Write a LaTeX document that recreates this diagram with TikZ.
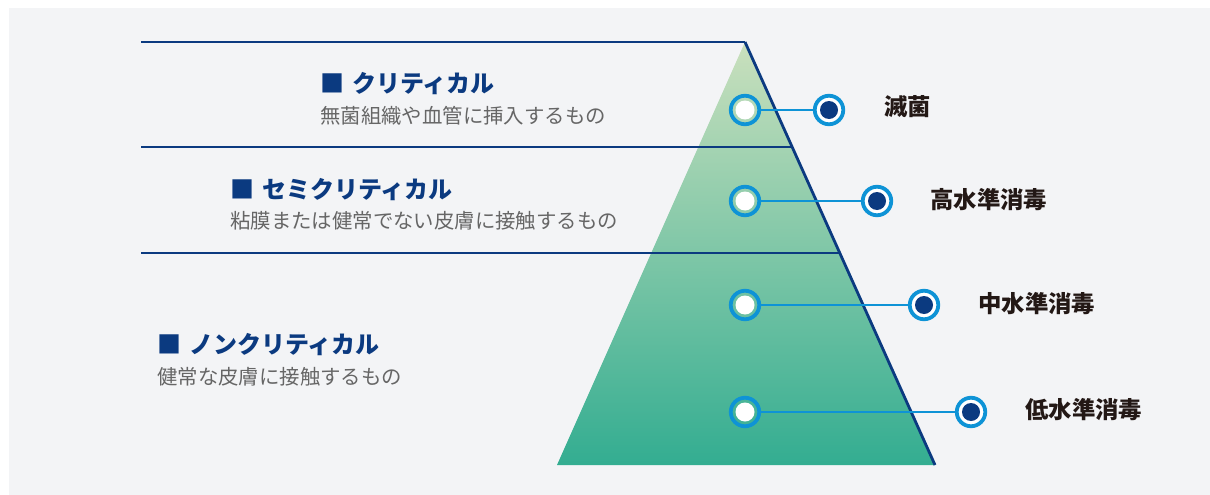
\documentclass[tikz,border=0pt]{standalone}
\usepackage{fontspec}
\usepackage{color}
\setmainfont{Noto Sans CJK JP}
\definecolor{navy}{HTML}{0B3A80}
\definecolor{ringblue}{HTML}{0E93D6}
\definecolor{bggray}{HTML}{F3F4F6}
\definecolor{subgray}{HTML}{666666}
\definecolor{inkblack}{HTML}{231815}
\definecolor{pyrtop}{HTML}{CAE0BD}
\definecolor{pyrbot}{HTML}{33AD91}

\begin{document}
\begin{tikzpicture}[%
      x=1pt, y=-1pt,
      level/.style={navy, line width=2.8pt},
      inring/.style={circle, draw=ringblue, line width=3.8pt, minimum size=28.5pt, inner sep=0pt},
      outring/.style={circle, draw=ringblue, line width=3.8pt, fill=white, minimum size=28.5pt, inner sep=0pt},
      link/.style={ringblue, line width=2.5pt},
      head/.style={anchor=west, inner sep=0pt, text=navy, font=\bfseries\fontsize{24}{28}\selectfont},
      sub/.style={anchor=west, inner sep=0pt, text=subgray, font=\fontsize{20.4}{24}\selectfont},
      lvl/.style={anchor=west, inner sep=0pt, text=inkblack, font=\bfseries\fontsize{23.4}{28}\selectfont},
      ]
      \useasboundingbox (0,0) rectangle (1210,495);
      \fill [bggray] (9,8) rectangle (1210,495);

      % pyramid
      \coordinate (apex) at (745,42);
      \coordinate (baseL) at (557,465);
      \coordinate (baseR) at (935,465);
      \shade [top color=pyrtop, bottom color=pyrbot] (apex) -- (baseR) -- (baseL) -- cycle;
      \draw [level] (apex) -- (baseR);

      \coordinate (lineA) at (141,42);
      \coordinate (lineB) at (141,147);
      \coordinate (lineBe) at (792,147);
      \coordinate (lineC) at (141,253);
      \coordinate (lineCe) at (840,253);
      \draw [level] (lineA) -- (apex);
      \draw [level] (lineB) -- (lineBe);
      \draw [level] (lineC) -- (lineCe);

      % classes
      \node [head] (crit) at (320,84) {■\hspace{8pt}クリティカル};
      \node [sub] (critsub) at (320,116) {無菌組織や血管に挿入するもの};
      \node [head] (semi) at (230,190) {■\hspace{8pt}セミクリティカル};
      \node [sub] (semisub) at (230,221) {粘膜または健常でない皮膚に接触するもの};
      \node [head] (non) at (157,345) {■\hspace{8pt}ノンクリティカル};
      \node [sub] (nonsub) at (157,377) {健常な皮膚に接触するもの};

      % markers
      \node [inring] (p1) at (745,110) {};
      \node [inring] (p2) at (745,201) {};
      \node [inring] (p3) at (745,305) {};
      \node [inring] (p4) at (745,412) {};
      \fill [white] (p1) circle (9.5);
      \fill [white] (p2) circle (9.5);
      \fill [white] (p3) circle (9.5);
      \fill [white] (p4) circle (9.5);

      \node [outring] (q1) at (829,110) {};
      \node [outring] (q2) at (877,201) {};
      \node [outring] (q3) at (924,305) {};
      \node [outring] (q4) at (971,412) {};
      \fill [navy] (q1) circle (9);
      \fill [navy] (q2) circle (9);
      \fill [navy] (q3) circle (9);
      \fill [navy] (q4) circle (9);

      \draw [link] (p1.east) -- (q1.west);
      \draw [link] (p2.east) -- (q2.west);
      \draw [link] (p3.east) -- (q3.west);
      \draw [link] (p4.east) -- (q4.west);

      % disinfection levels
      \node [lvl] (l1) at (884,107) {滅菌};
      \node [lvl] (l2) at (930,200) {高水準消毒};
      \node [lvl] (l3) at (978,304) {中水準消毒};
      \node [lvl] (l4) at (1025,410) {低水準消毒};
      \end{tikzpicture}
\end{document}
